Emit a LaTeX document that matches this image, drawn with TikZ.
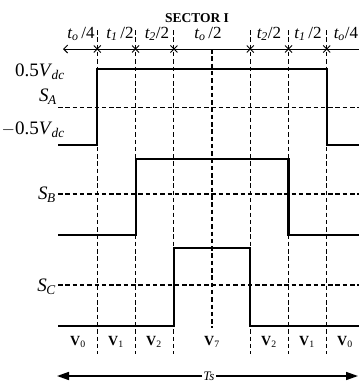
\documentclass[tikz,border=0pt]{standalone}
\usepackage{fontspec}
\setmainfont{Liberation Serif}
\usetikzlibrary{arrows.meta,positioning}

\newcommand{\itsub}[2]{\textit{#1}\textsubscript{\kern-0.5pt\textit{#2}}}

\begin{document}
\begin{tikzpicture}[x=1pt, y=-1pt,
  wave/.style={line width=2.2pt},
  gridline/.style={line width=1.1pt, dash pattern=on 4.5pt off 2.8pt},
  lvl/.style={font=\fontsize{19}{19}\selectfont, anchor=east, inner sep=0pt},
  tlab/.style={font=\fontsize{17}{17}\selectfont, inner sep=0pt},
  vlab/.style={font=\fontsize{14}{14}\selectfont\bfseries, inner sep=0pt},
  crossmark/.style={line width=0.9pt},
  arrow/.style={-{Triangle[length=12pt, width=8pt]}, line width=1.6pt}
]
\useasboundingbox (0,0) rectangle (359,383);

% switching instants
\foreach \x in {97.3,135.6,173.9,250.3,288.5,326.7}
  \draw[gridline] (\x,30) -- (\x,354);
\draw[gridline] (212,49) -- (212,328);

% time axis
\coordinate (axL) at (63,49);
\coordinate (axR) at (359,49);
\draw[{Straight Barb[length=4pt, width=8pt]}-, line width=0.9pt] (axL) -- (axR);
\foreach \x in {97.3,135.6,173.9,250.3,288.5,326.7}
  \draw[crossmark] (\x-3.5,45.5) -- (\x+3.5,52.5) (\x-3.5,52.5) -- (\x+3.5,45.5);

\node[font=\fontsize{13.5}{13.5}\selectfont\bfseries] (sector) at (197,18) {SECTOR I};
\node[tlab] (ta) at (81,34) {\itsub{t}{o}\,/4};
\node[tlab] (tb) at (120,34) {\itsub{t}{1}\,/2};
\node[tlab] (tc) at (157,34) {\itsub{t}{2}/2};
\node[tlab] (td) at (208,34) {\itsub{t}{o}\,/2};
\node[tlab] (te) at (269,34) {\itsub{t}{2}/2};
\node[tlab] (tf) at (308,34) {\itsub{t}{1}\,/2};
\node[tlab] (tg) at (346,34) {\itsub{t}{o}/4};

% phase levels
\draw[gridline] (58,107.7) -- (359,107.7);
\draw[gridline] (58,194) -- (359,194);
\draw[gridline] (58,285) -- (359,285);

\node[lvl] (vhi) at (65,72) {0.5\itsub{V}{dc}};
\node[lvl] (sa) at (57,97) {\itsub{S}{A}};
\node[lvl] (vlo) at (65,130) {$-$0.5\itsub{V}{dc}};
\node[lvl] (sb) at (56,195) {\itsub{S}{B}};
\node[lvl] (sc) at (56,287) {\itsub{S}{C}};

% gate signals
\draw[wave] (58,145) -- (97.3,145) -- (97.3,69) -- (326.7,69) -- (326.7,145) -- (359,145);
\draw[wave] (58,235) -- (135.6,235) -- (135.6,159) -- (288.5,159) -- (288.5,235) -- (359,235);
\draw[wave] (58,325.7) -- (173.9,325.7) -- (173.9,248.3) -- (250.3,248.3) -- (250.3,325.7) -- (359,325.7);

% vectors
\node[vlab] (v0a) at (78,342) {V\textsubscript{\mdseries 0}};
\node[vlab] (v1a) at (116,342) {V\textsubscript{\mdseries 1}};
\node[vlab] (v2a) at (154,342) {V\textsubscript{\mdseries 2}};
\node[vlab] (v7) at (212,342) {V\textsubscript{\mdseries 7}};
\node[vlab] (v2b) at (269,342) {V\textsubscript{\mdseries 2}};
\node[vlab] (v1b) at (307,342) {V\textsubscript{\mdseries 1}};
\node[vlab] (v0b) at (345,342) {V\textsubscript{\mdseries 0}};

% sampling period
\node[font=\fontsize{13}{13}\selectfont\itshape, fill=white, inner sep=1pt] (ts) at (209,376) {Ts};
\coordinate (tsL) at (57,376);
\coordinate (tsR) at (358,376);
\draw[arrow] (ts) -- (tsL);
\draw[arrow] (ts) -- (tsR);
\end{tikzpicture}
\end{document}
